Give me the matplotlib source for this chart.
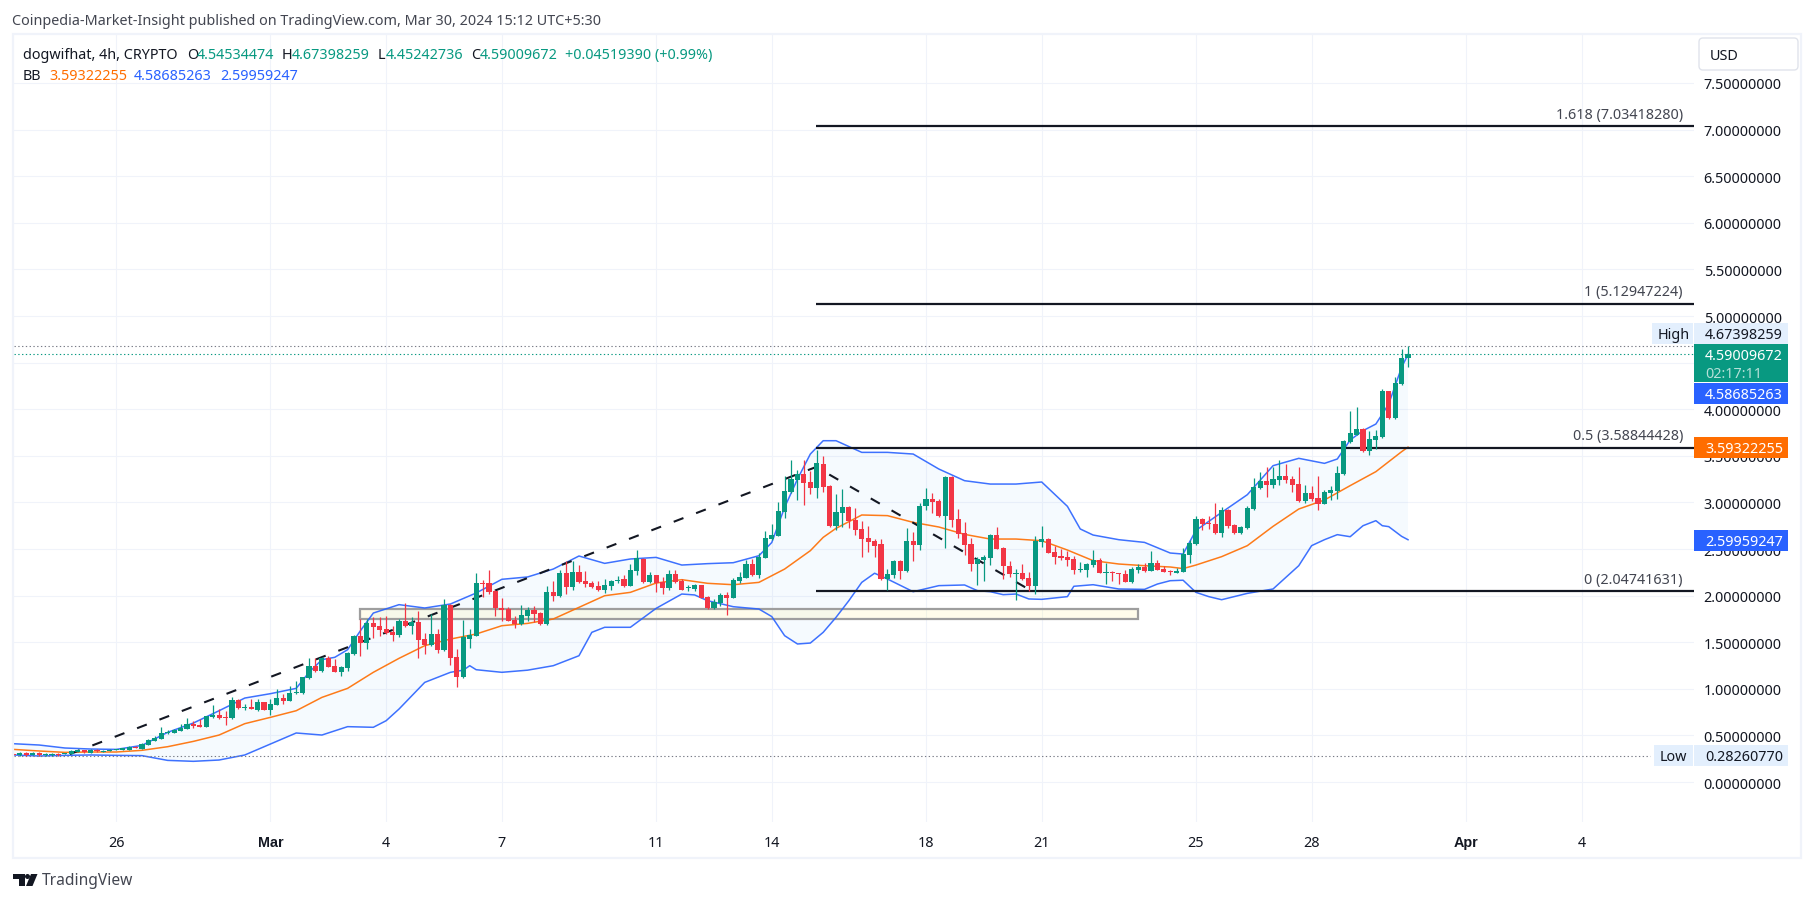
import matplotlib
matplotlib.use('Agg')
import matplotlib.pyplot as plt
from matplotlib.patches import Rectangle, Circle, Polygon, FancyBboxPatch
import numpy as np

# dogwifhat 4h candles, one entry per bar
bar_open = [.300,.290,.311,.290,.311,.286,.286,.300,.304,.304,
    .325,.340,.315,.340,.325,.336,.343,.343,.343,.379,
    .358,.401,.440,.465,.522,.529,.547,.569,.622,.608,
    .590,.697,.715,.697,.683,.880,.798,.805,.776,.855,
    .773,.826,.901,.869,.955,.955,1.116,1.245,1.191,1.330,
    1.245,1.184,1.227,1.377,1.567,1.495,1.706,1.670,1.642,1.609,
    1.577,1.727,1.674,1.717,1.531,1.474,1.584,1.420,1.896,1.338,
    1.130,1.538,1.567,2.135,2.139,2.049,1.867,1.860,1.738,1.695,
    1.781,1.845,1.813,1.695,2.039,1.996,2.243,2.096,2.253,2.157,
    2.139,2.099,2.060,2.103,2.157,2.178,2.103,2.260,2.393,2.146,
    2.221,2.146,2.078,2.232,2.160,2.078,2.071,2.114,1.985,1.863,
    1.921,2.006,1.974,2.157,2.189,2.339,2.221,2.403,2.607,2.639,
    2.901,3.112,3.240,3.305,3.219,3.158,3.412,3.176,2.743,2.890,
    2.954,2.815,2.715,2.618,2.586,2.554,2.178,2.221,2.371,2.260,
    2.586,2.543,2.958,3.036,3.015,2.854,3.273,2.822,2.672,2.554,
    2.343,2.386,2.407,2.650,2.511,2.318,2.235,2.243,2.189,2.103,
    2.579,2.607,2.468,2.425,2.414,2.393,2.275,2.278,2.328,2.382,
    2.246,2.257,2.243,2.232,2.146,2.275,2.307,2.264,2.350,2.285,
    2.264,2.243,2.253,2.436,2.554,2.822,2.783,2.768,2.672,2.918,
    2.758,2.672,2.725,2.929,3.154,3.230,3.187,3.240,3.283,3.251,
    3.197,3.015,3.101,3.047,2.983,3.101,3.122,3.305,3.648,3.727,
    3.788,3.552,3.670,3.702,4.195,3.906,4.270,4.545]
bar_high = [.308,.318,.318,.322,.318,.308,.308,.308,.311,.343,
    .350,.347,.350,.350,.340,.350,.358,.368,.383,.390,
    .415,.461,.490,.590,.558,.569,.619,.687,.658,.672,
    .712,.826,.780,.762,.916,.891,.833,.891,.891,.862,
    .891,.998,.944,1.030,1.084,1.130,1.330,1.330,1.338,1.352,
    1.320,1.245,1.391,1.577,1.749,1.749,1.767,1.767,1.778,1.677,
    1.749,1.917,1.767,1.831,1.599,1.799,1.638,1.964,1.910,1.427,
    1.738,1.642,2.239,2.167,2.275,2.064,1.974,1.878,1.785,1.899,
    1.878,1.885,1.820,2.103,2.160,2.275,2.368,2.371,2.328,2.260,
    2.160,2.157,2.175,2.167,2.210,2.221,2.339,2.489,2.400,2.250,
    2.225,2.196,2.275,2.278,2.178,2.114,2.124,2.117,1.992,1.964,
    2.031,2.035,2.189,2.250,2.378,2.393,2.457,2.697,2.768,3.001,
    3.283,3.455,3.351,3.455,3.340,3.566,3.494,3.187,3.090,3.144,
    2.961,2.940,2.804,2.747,2.607,2.607,2.285,2.386,2.378,2.725,
    2.679,2.994,3.154,3.101,3.036,3.287,3.280,2.929,2.790,2.614,
    2.411,2.432,2.661,2.732,2.521,2.375,2.285,2.339,2.250,2.636,
    2.747,2.622,2.529,2.500,2.475,2.421,2.357,2.350,2.489,2.403,
    2.350,2.264,2.243,2.271,2.310,2.339,2.346,2.479,2.378,2.321,
    2.275,2.296,2.511,2.600,2.854,2.836,2.854,2.994,2.951,2.929,
    2.768,2.750,2.965,3.262,3.326,3.380,3.380,3.455,3.412,3.283,
    3.380,3.187,3.176,3.283,3.133,3.176,3.391,3.670,3.981,4.024,
    3.798,3.766,3.777,4.217,4.197,4.345,4.646,4.674]
bar_low = [.279,.283,.283,.286,.283,.283,.283,.283,.300,.300,
    .322,.315,.308,.325,.322,.333,.340,.340,.340,.361,
    .354,.397,.436,.461,.518,.526,.544,.565,.579,.590,
    .586,.683,.680,.615,.680,.787,.776,.780,.765,.769,
    .722,.822,.840,.865,.944,.948,1.110,1.180,1.184,1.230,
    1.177,1.141,1.195,1.359,1.356,1.431,1.549,1.570,1.588,1.516,
    1.559,1.660,1.588,1.334,1.377,1.463,1.388,1.410,1.255,1.023,
    1.120,1.438,1.563,1.985,2.017,1.781,1.731,1.724,1.656,1.690,
    1.731,1.713,1.690,1.690,1.942,1.990,2.014,2.064,2.140,2.092,
    2.085,2.053,2.031,2.064,2.135,2.092,2.100,2.225,2.140,2.140,
    2.039,2.017,2.060,2.130,2.055,2.053,2.053,1.970,1.860,1.856,
    1.892,1.795,1.970,2.139,2.185,2.210,2.189,2.400,2.600,2.635,
    2.833,3.105,3.029,2.972,3.090,3.047,3.112,2.740,2.700,2.732,
    2.729,2.650,2.418,2.471,2.414,2.170,2.060,2.189,2.178,2.253,
    2.371,2.493,2.915,2.890,2.843,2.511,2.740,2.622,2.436,2.264,
    2.114,2.153,2.328,2.495,2.178,2.203,1.953,2.167,2.053,2.017,
    2.521,2.454,2.339,2.382,2.321,2.235,2.253,2.200,2.310,2.240,
    2.124,2.157,2.124,2.143,2.140,2.243,2.253,2.260,2.270,2.250,
    2.225,2.240,2.250,2.350,2.543,2.707,2.715,2.661,2.629,2.725,
    2.661,2.665,2.720,2.918,3.148,3.058,3.154,3.187,3.208,3.112,
    3.008,2.994,3.015,2.918,2.978,3.026,3.036,3.294,3.640,3.723,
    3.545,3.509,3.573,3.695,3.895,3.900,4.265,4.452]
bar_close = [.286,.308,.290,.311,.286,.297,.300,.286,.308,.336,
    .340,.318,.343,.329,.333,.343,.354,.361,.376,.365,
    .408,.451,.476,.526,.536,.558,.579,.622,.604,.594,
    .705,.715,.683,.690,.880,.794,.805,.783,.858,.773,
    .833,.901,.869,.955,.966,1.123,1.245,1.187,1.330,1.234,
    1.180,1.237,1.384,1.567,1.495,1.706,1.667,1.631,1.599,1.581,
    1.727,1.674,1.717,1.527,1.474,1.584,1.420,1.896,1.334,1.130,
    1.556,1.577,2.135,2.124,2.042,1.863,1.849,1.731,1.695,1.792,
    1.845,1.803,1.695,2.039,1.996,2.243,2.096,2.253,2.149,2.124,
    2.089,2.060,2.114,2.160,2.171,2.103,2.275,2.403,2.146,2.221,
    2.132,2.082,2.232,2.142,2.060,2.082,2.117,1.974,1.863,1.931,
    2.010,1.974,2.167,2.196,2.339,2.221,2.414,2.618,2.650,2.908,
    3.122,3.251,3.305,3.208,3.151,3.419,3.165,2.743,2.897,2.951,
    2.800,2.704,2.607,2.575,2.532,2.178,2.232,2.371,2.264,2.586,
    2.543,2.961,3.036,3.008,2.850,3.276,2.815,2.665,2.543,2.343,
    2.389,2.418,2.650,2.500,2.314,2.232,2.243,2.178,2.103,2.589,
    2.607,2.457,2.418,2.400,2.386,2.278,2.285,2.339,2.382,2.243,
    2.253,2.239,2.235,2.146,2.285,2.310,2.264,2.350,2.275,2.253,
    2.253,2.264,2.446,2.564,2.822,2.768,2.772,2.672,2.918,2.747,
    2.672,2.736,2.940,3.165,3.230,3.187,3.251,3.283,3.240,3.187,
    3.015,3.101,3.036,2.983,3.112,3.133,3.315,3.659,3.745,3.788,
    3.552,3.680,3.712,4.195,3.906,4.281,4.549,4.590]

# Bollinger bands (bar numbers start at 1)
upper_bars = [1,5,9,13,17,21,25,29,33,37,
    41,45,47,49,51,53,55,57,61,65,
    69,73,77,81,85,89,93,97,101,105,
    109,113,117,119,121,123,125,127,129,133,
    137,141,145,149,153,157,161,165,167,169,
    173,177,181,183,185,189,193,197,201,205,
    207,209,211,213,215,217,218]
upper_band = [.411,.397,.365,.354,.350,.393,.533,.633,.765,.901,
    .948,1.005,1.177,1.313,1.338,1.42,1.624,1.813,1.903,1.867,
    1.910,2.028,2.175,2.20,2.285,2.425,2.346,2.393,2.41,2.328,
    2.343,2.353,2.428,2.57,2.947,3.25,3.519,3.662,3.662,3.537,
    3.537,3.519,3.358,3.233,3.197,3.197,3.219,2.958,2.715,2.65,
    2.60,2.571,2.457,2.446,2.70,2.893,3.083,3.394,3.473,3.419,
    3.466,3.67,3.77,3.841,4.056,4.449,4.587]
mid_bars = [1,5,9,13,17,21,25,29,33,37,
    41,45,49,53,57,61,65,69,73,77,
    81,85,89,93,97,101,105,109,113,117,
    121,125,127,129,133,137,141,145,149,153,
    157,161,165,169,173,177,181,183,185,189,
    193,197,201,205,209,213,217,218]
mid_band = [.35,.333,.318,.322,.322,.34,.379,.436,.504,.626,
    .694,.765,.908,1.005,1.177,1.327,1.463,1.534,1.588,1.677,
    1.702,1.749,1.874,1.999,2.035,2.135,2.171,2.132,2.117,2.142,
    2.285,2.482,2.625,2.722,2.865,2.858,2.786,2.736,2.657,2.607,
    2.607,2.589,2.489,2.375,2.339,2.321,2.307,2.29,2.328,2.418,
    2.536,2.743,2.929,3.026,3.18,3.33,3.544,3.593]
lower_bars = [1,5,9,13,17,21,25,29,33,37,
    41,45,49,53,57,59,61,65,69,71,
    72,73,77,81,85,89,91,93,97,101,
    105,107,109,113,117,119,121,123,125,127,
    129,131,133,135,137,141,145,149,151,153,
    155,157,159,161,165,166,169,173,177,179,
    181,183,185,187,189,193,197,201,203,205,
    207,209,211,213,214,215,217,218]
lower_band = [.29,.279,.286,.29,.286,.283,.232,.222,.236,.29,
    .408,.526,.504,.594,.587,.658,.783,1.069,1.177,1.20,
    1.248,1.205,1.177,1.20,1.248,1.355,1.606,1.66,1.66,1.863,
    2.017,2.007,1.946,1.881,1.856,1.775,1.57,1.481,1.491,1.606,
    1.767,1.946,2.142,2.24,2.178,2.042,2.107,2.114,2.053,2.042,
    2.01,2.017,1.964,1.96,1.989,2.10,2.117,2.071,2.067,2.124,
    2.16,2.165,2.035,1.989,1.956,2.024,2.071,2.321,2.536,2.6,
    2.654,2.632,2.75,2.804,2.75,2.74,2.636,2.5996]

# x axis ticks, 6 bars to a day
tick_bars = [17, 41, 59, 77, 101, 119, 143, 161, 185, 203, 227, 245]
tick_labels = ['26', 'Mar', '4', '7', '11', '14', '18', '21', '25', '28', 'Apr', '4']
price_ticks = [0, .5, 1, 1.5, 2, 2.5, 3, 3.5, 4, 4.5, 5, 5.5, 6, 6.5, 7, 7.5]

# trend based fib drawing
trend_bars = [9.8, 125.9, 159.5]
trend_prices = [.30, 3.38, 2.0474]
fib_start_bar = 125.9
fib_end_bar = 262.5
fib_levels = [2.04741631, 3.58844428, 5.12947224, 7.03418280]
fib_labels = ['0 (2.04741631)', '0.5 (3.58844428)', '1 (5.12947224)', '1.618 (7.03418280)']

# support box
zone_bars = [54.9, 176]
zone_prices = [1.752, 1.856]

high_price = 4.67398259
low_price = 0.28260770
last_price = 4.59009672

GREEN = '#089981'
RED = '#f23645'
BLUE = '#2962ff'
ORANGE = '#ff6d00'
DARK = '#131722'
GRID = '#f0f3fa'
FONT_SIZE = 10.35
W, H = 1814, 903

plt.rcParams['font.family'] = ['Noto Sans', 'DejaVu Sans']
fig = plt.figure(figsize=(W / 100, H / 100), dpi=100, facecolor='white')
ax = fig.add_axes([14 / W, 1 - 823 / H, (1694 - 14) / W, (823 - 36) / H])
ax.set_xlim(1.089, fib_end_bar)
ax.set_ylim(-0.429, 8.015)
for s in ax.spines.values():
    s.set_visible(False)

ax.set_xticks(tick_bars)
ax.set_xticklabels(tick_labels, fontsize=FONT_SIZE, color=DARK)
for t in ax.get_xticklabels():
    if t.get_text() in ('Mar', 'Apr'):
        t.set_family('Liberation Sans')
        t.set_fontweight('bold')
ax.set_yticks(price_ticks)
ax.set_yticklabels(['%.8f' % p for p in price_ticks], fontsize=FONT_SIZE, color=DARK)
ax.yaxis.tick_right()
ax.tick_params(axis='x', length=0, pad=9.5)
ax.tick_params(axis='y', length=0, pad=7)
ax.grid(True, color=GRID, lw=0.8)
ax.set_axisbelow(True)

# band fill and lines
ax.fill(list(upper_bars) + lower_bars[::-1], list(upper_band) + lower_band[::-1],
        color='#2196f3', alpha=0.045, lw=0, zorder=1)
ax.add_patch(Rectangle((zone_bars[0], zone_prices[0]), zone_bars[1] - zone_bars[0],
                       zone_prices[1] - zone_prices[0], facecolor=(1, 0.92, 0.23, 0.1),
                       edgecolor='#9e9e9e', lw=1.6, zorder=1.5))

ax.plot(upper_bars, upper_band, color=BLUE, lw=1.1, alpha=0.9, zorder=2)
ax.plot(lower_bars, lower_band, color=BLUE, lw=1.1, alpha=0.9, zorder=2)
ax.plot(mid_bars, mid_band, color=ORANGE, lw=1.1, alpha=0.9, zorder=2)

# fib and trend
ax.plot(trend_bars, trend_prices, color=DARK, lw=1.5, linestyle=(0, (5, 6.5)), zorder=2.5)
for level, label_text in zip(fib_levels, fib_labels):
    ax.plot([fib_start_bar, fib_end_bar], [level, level], color=DARK, lw=1.6,
            solid_capstyle='butt', zorder=2.5)
    ax.annotate(label_text, (fib_end_bar, level), xytext=(-11, 12), textcoords='offset pixels',
                ha='right', va='center', fontsize=FONT_SIZE, color='#434651', annotation_clip=False)

ax.axhline(high_price, color='#787b86', lw=0.8, linestyle=(0, (1.2, 2.2)), zorder=2)
ax.axhline(last_price, color=GREEN, lw=0.8, linestyle=(0, (1.2, 2.2)), zorder=2)
ax.plot([1.089, 255.6], [low_price, low_price], color='#787b86', lw=0.8, linestyle=(0, (1.2, 2.2)), zorder=2)

# candles
bars = np.arange(1, len(bar_open) + 1)
bar_open = np.array(bar_open)
bar_close = np.array(bar_close)
colors = [GREEN if c >= o else RED for o, c in zip(bar_open, bar_close)]
ax.vlines(bars, bar_low, bar_high, colors=colors, lw=0.9, zorder=3)
body_min = np.minimum(bar_open, bar_close)
body_h = np.maximum(np.abs(bar_close - bar_open), 0.012)
ax.bar(bars, body_h, bottom=body_min, width=0.8, color=colors, lw=0, zorder=3)

# everything around the chart in pixel coordinates
over = fig.add_axes([0, 0, 1, 1], facecolor='none')
over.set_xlim(0, W)
over.set_ylim(H, 0)
over.axis('off')
over.add_patch(Rectangle((13, 34.5), 1788, 824.5, fill=False, edgecolor=GRID, lw=1.6))


def box(x0, y0, x1, y1, color):
    over.add_patch(Rectangle((x0, y0), x1 - x0, y1 - y0, facecolor=color, edgecolor='none', zorder=3))


def label(x, y, s, color=DARK, size=FONT_SIZE):
    over.text(x, y + 1.5, s, color=color, ha='left', va='center', fontsize=size, zorder=4)


# title and legend rows
label(12, 20, 'Coinpedia-Market-Insight published on TradingView.com, Mar 30, 2024 15:12 UTC+5:30', color='#434651')
label(23, 54, 'dogwifhat, 4h, CRYPTO')
for x, s in [(187, 'O'), (282, 'H'), (378, 'L'), (471, 'C')]:
    label(x, 54, s)
for x, s in [(197, '4.54534474'), (292, '4.67398259'), (386, '4.45242736'), (480, '4.59009672'),
             (565, '+0.04519390 (+0.99%)')]:
    label(x, 54, s, color=GREEN)
label(23, 75, 'BB')
label(49, 75, '3.59322255', color=ORANGE)
label(134, 75, '4.58685263', color=BLUE)
label(220, 75, '2.59959247', color=BLUE)

# USD button
over.add_patch(FancyBboxPatch((1702, 42), 93, 26, boxstyle='round,pad=3,rounding_size=4',
                              facecolor='white', edgecolor='#e0e3eb', lw=1, zorder=3))
label(1710, 55, 'USD')

# price scale tags
box(1652, 324, 1693, 345, '#e3effd')
box(1694, 324, 1788, 345, '#e3effd')
label(1658, 334, 'High')
label(1705, 334, '4.67398259')
box(1694, 345, 1788, 383, GREEN)
label(1705, 355, '4.59009672', color='white')
label(1705, 373, '02:17:11', color='#b5e0d8')
box(1694, 384, 1788, 405, BLUE)
label(1705, 394, '4.58685263', color='white')
box(1694, 438, 1788, 459, ORANGE)
label(1705, 448, '3.59322255', color='white')
box(1694, 531, 1788, 552, BLUE)
label(1705, 541, '2.59959247', color='white')
box(1654, 746, 1693, 767, '#e3effd')
box(1694, 746, 1788, 767, '#e3effd')
label(1660, 756, 'Low')
label(1705, 756, '0.28260770')

# TradingView logo
over.add_patch(Polygon([(13, 875), (24.5, 875), (24.5, 887), (18.5, 887), (18.5, 880), (13, 880)], color=DARK, lw=0))
over.add_patch(Circle((27.5, 877.5), 2.5, color=DARK, lw=0))
over.add_patch(Polygon([(31, 875), (37.5, 875), (32.5, 887), (26, 887)], color=DARK, lw=0))
label(42, 880, 'TradingView', color='#434651', size=11.2)

fig.savefig('out.png', dpi=100, facecolor='white')
